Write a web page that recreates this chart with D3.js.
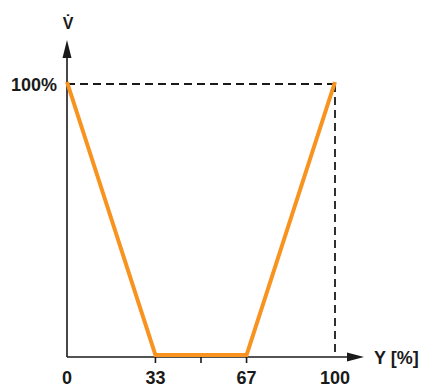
<!DOCTYPE html>
<html>
<head>
<meta charset="utf-8">
<script src="https://cdn.jsdelivr.net/npm/d3@7"></script>
<style>
  body { margin: 0; background: #fff; }
  svg text { font-family: "Liberation Sans", Arial, sans-serif; font-weight: bold; fill: #1a1a1a; }
</style>
</head>
<body>
<svg class="chart" width="422" height="388"></svg>
<script>
// stroke position Y [%] vs flow %
const strokeX = [0, 33, 67, 100];
const flowY = [100, 0, 0, 100];
const tickMarks = [33, 50, 67];
const tickLabels = [0, 33, 67, 100];

const svg = d3.select("svg.chart");

const x = d3.scaleLinear().domain([0, 100]).range([67, 335]);
const y = d3.scaleLinear().domain([0, 100]).range([357, 84]);

const axisColor = "#1a1a1a";

// dashed guides at 100 / 100%
svg.append("line")
  .attr("x1", x(0)).attr("x2", x(100))
  .attr("y1", y(100)).attr("y2", y(100))
  .attr("stroke", axisColor).attr("stroke-width", 1.8)
  .attr("stroke-dasharray", "8,5");

svg.append("line")
  .attr("x1", x(100)).attr("x2", x(100))
  .attr("y1", y(100)).attr("y2", y(0))
  .attr("stroke", axisColor).attr("stroke-width", 1.8)
  .attr("stroke-dasharray", "8,5");

// axes with arrow heads
svg.append("line")
  .attr("x1", x(0)).attr("x2", x(0))
  .attr("y1", y(0)).attr("y2", 56)
  .attr("stroke", axisColor).attr("stroke-width", 1.6);

svg.append("path")
  .attr("d", "M" + x(0) + ",40 L" + (x(0) - 4.5) + ",58 L" + (x(0) + 4.5) + ",58 Z")
  .attr("fill", axisColor);

svg.append("line")
  .attr("x1", x(0)).attr("x2", 350)
  .attr("y1", y(0)).attr("y2", y(0))
  .attr("stroke", axisColor).attr("stroke-width", 1.6);

svg.append("path")
  .attr("d", "M364," + y(0) + " L347," + (y(0) - 4.5) + " L347," + (y(0) + 4.5) + " Z")
  .attr("fill", axisColor);

svg.selectAll("line.tick")
  .data(tickMarks)
  .enter()
  .append("line")
  .attr("class", "tick")
  .attr("x1", d => x(d)).attr("x2", d => x(d))
  .attr("y1", y(0)).attr("y2", y(0) + 6)
  .attr("stroke", axisColor).attr("stroke-width", 1.6);

svg.selectAll("text.tick")
  .data(tickLabels)
  .enter()
  .append("text")
  .attr("class", "tick")
  .attr("x", d => x(d))
  .attr("y", 384)
  .attr("text-anchor", "middle")
  .attr("font-size", 18)
  .text(d => d);

svg.append("text")
  .attr("x", 57).attr("y", y(100) + 6.5)
  .attr("text-anchor", "end")
  .attr("font-size", 18)
  .text("100%");

svg.append("text")
  .attr("x", 374).attr("y", y(0) + 6.5)
  .attr("font-size", 18)
  .text("Y [%]");

svg.append("text")
  .attr("x", x(0) + 1).attr("y", 28.5)
  .attr("text-anchor", "middle")
  .attr("font-size", 16)
  .text("V\u0307");

// flow curve
const line = d3.line()
  .x((d, i) => x(strokeX[i]))
  .y(d => y(d));

svg.append("path")
  .datum(flowY)
  .attr("d", line)
  .attr("transform", "translate(0,-2)")
  .attr("fill", "none")
  .attr("stroke", "#f7931e")
  .attr("stroke-width", 4)
  .attr("stroke-linejoin", "miter");
</script>
</body>
</html>
